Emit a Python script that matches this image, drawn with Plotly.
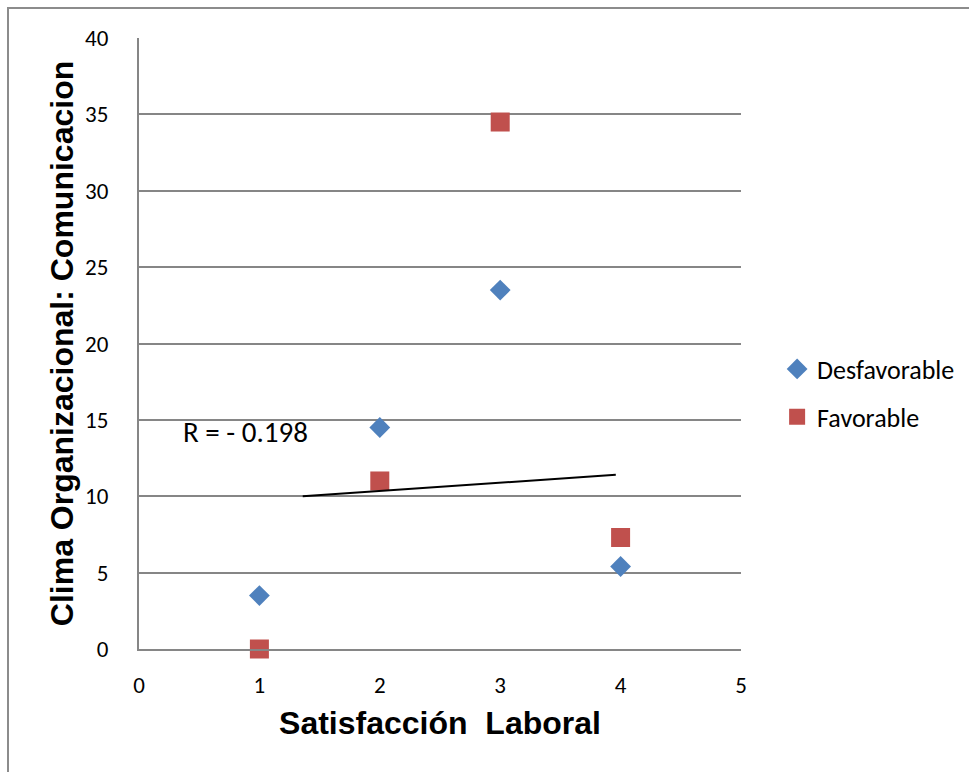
import plotly.graph_objects as go

# Scatter data: Satisfacción Laboral (x) vs Clima Organizacional: Comunicacion (y)
x_desfav = [1, 2, 3, 4]
y_desfav = [3.5, 14.5, 23.5, 5.4]
x_fav = [1, 2, 3, 4]
y_fav = [0, 11, 34.5, 7.3]

# Trend line endpoints
trend_x = [1.36, 3.96]
trend_y = [10.0, 11.4]

r_label = "R = - 0.198"
x_ticks = [0, 1, 2, 3, 4, 5]
y_ticks = [0, 5, 10, 15, 20, 25, 30, 35, 40]

body_family = "Carlito, Lato, Open Sans, sans-serif"
tick_font = dict(family=body_family, size=23, color="#000000")
title_font = dict(family="Liberation Sans, Arial, sans-serif", size=32,
                  color="#000000", weight="bold")

fig = go.Figure()

fig.add_trace(go.Scatter(
    x=x_desfav, y=y_desfav, mode="markers", name="Desfavorable",
    legendgroup="desfav",
    marker=dict(symbol="diamond", size=16, color="#4F81BD",
                line=dict(width=0)),
    cliponaxis=False,
))
fig.add_trace(go.Scatter(
    x=x_fav, y=y_fav, mode="markers", name="Favorable",
    legendgroup="fav",
    marker=dict(symbol="square", size=19, color="#C0504D",
                line=dict(width=0)),
    cliponaxis=False,
))
fig.add_trace(go.Scatter(
    x=trend_x, y=trend_y, mode="lines", showlegend=False,
    line=dict(color="#000000", width=2), hoverinfo="skip",
))

fig.add_annotation(
    x=0.885, y=14.2, xref="x", yref="y", text=r_label, showarrow=False,
    font=dict(family=body_family, size=29, color="#000000"),
)

# Outer chart border (right and bottom edges fall outside the view)
fig.add_shape(
    type="rect", xref="paper", yref="paper",
    x0=-131 / 602, x1=1.5, y0=-0.5, y1=(649 - 8) / 611,
    line=dict(color="#8C8C8C", width=2), fillcolor="rgba(0,0,0,0)", layer="below",
)

fig.update_layout(
    width=969, height=772,
    margin=dict(l=139, r=228, t=38, b=123, autoexpand=False),
    paper_bgcolor="#FFFFFF", plot_bgcolor="#FFFFFF",
    showlegend=True,
    legend=dict(
        x=1.06, y=0.419, xanchor="left", yanchor="middle",
        font=dict(family=body_family, size=26, color="#000000"),
        bgcolor="rgba(0,0,0,0)", traceorder="grouped", tracegroupgap=11,
        itemwidth=30,
    ),
    xaxis=dict(
        range=[0, 5], tickvals=x_ticks, ticks="", showgrid=False, zeroline=False,
        showline=True, linecolor="#868686", linewidth=2,
        tickfont=tick_font, ticklabelstandoff=14,
        title=dict(text="Satisfacción  Laboral", font=title_font, standoff=14),
    ),
    yaxis=dict(
        range=[0, 40], tickvals=y_ticks, ticks="", showgrid=True,
        gridcolor="#868686", gridwidth=2, zeroline=False,
        showline=True, linecolor="#868686", linewidth=2,
        tickfont=tick_font, ticklabelstandoff=24,
        title=dict(text="Clima Organizacional: Comunicacion", font=title_font, standoff=2),
    ),
)

fig.write_html("out.html")
